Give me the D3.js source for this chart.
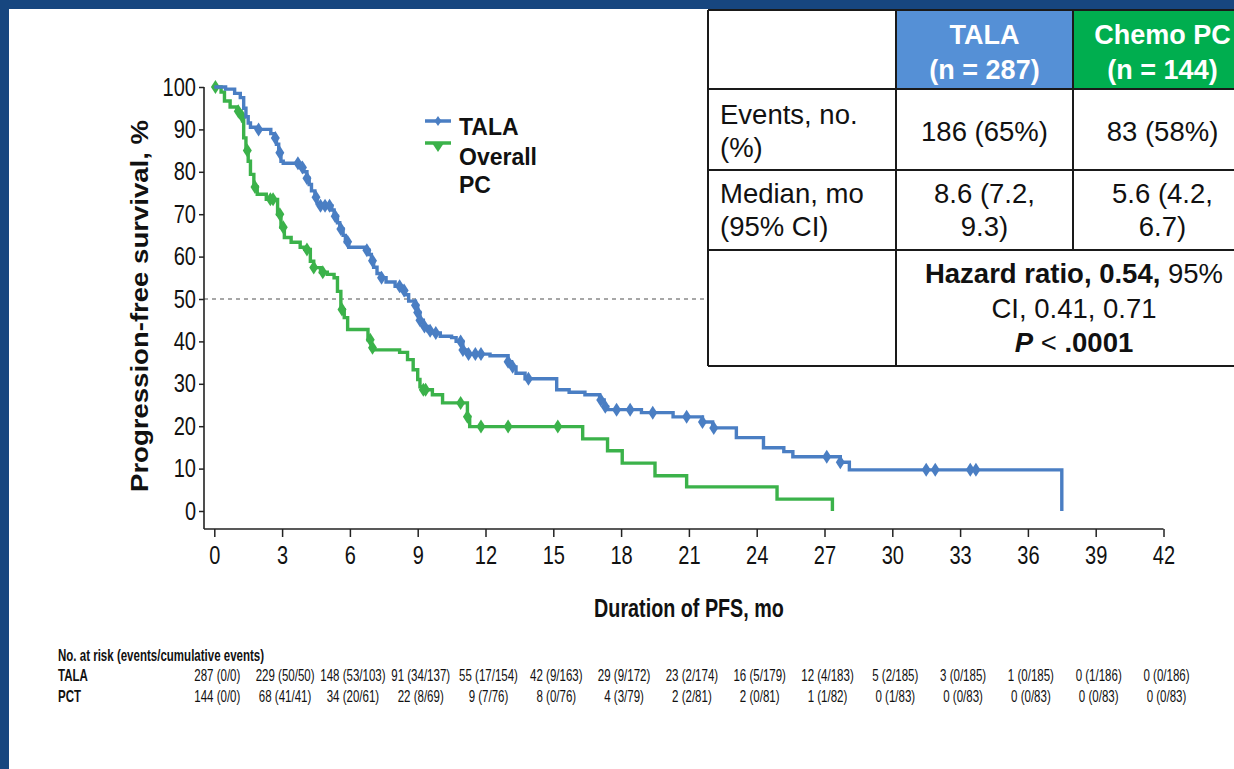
<!DOCTYPE html>
<html>
<head>
<meta charset="utf-8">
<script src="https://cdn.jsdelivr.net/npm/d3@7"></script>
<style>
  html, body { margin: 0; padding: 0; background: #fff; }
  svg { display: block; font-family: "Liberation Sans", Arial, sans-serif; }
</style>
</head>
<body>
<svg id="chart" width="1234" height="769"></svg>
<script>
// ---- axis ticks ----
const monthTicks = d3.range(0, 43, 3);
const survivalTicks = d3.range(0, 101, 10);

// ---- Kaplan–Meier steps: [month, % progression-free after the step] ----
const talaSteps = [
  [0,100],[0.5,99.5],[0.9,98.5],[1.15,97.5],[1.3,95],[1.4,93],[1.5,91.5],[1.6,90.5],[1.9,90],
  [2.5,89],[2.65,88],[2.75,86.5],[2.85,84.5],[2.95,82.5],[3.05,82],[3.8,81],[3.95,80],[4.1,78.5],
  [4.2,77],[4.3,75.5],[4.45,74],[4.55,72.5],[4.7,72],[5.2,71],[5.3,69.5],[5.45,68],[5.55,66.5],
  [5.7,65],[5.8,63.5],[5.95,62.2],[6.7,61.5],[6.85,60.5],[6.95,59],[7.05,57.5],[7.2,56],[7.35,55],
  [7.6,54],[8.0,53],[8.3,52],[8.45,51],[8.6,49.5],[8.9,48.5],[9.0,46.8],[9.1,45],[9.25,43.5],
  [9.45,42.5],[9.6,42],[10.0,41.2],[10.5,40.9],[10.7,40],[11.0,38],[11.2,37],[12.2,36.6],
  [13.0,35.2],[13.15,34],[13.35,32.5],[13.75,31.2],[15.15,28.6],[15.7,28.0],[16.4,27.4],
  [17.05,26.2],[17.25,24.6],[17.4,23.9],[18.9,23.2],[20.3,22.2],[21.6,21],[22.05,19.6],
  [23.1,17.3],[24.3,14.9],[25.2,14],[25.6,12.8],[27.7,11.5],[28.1,9.7],[37.5,0]
];
const pcSteps = [
  [0,100],[0.3,98.8],[0.45,96.7],[0.7,95.3],[1.0,94.3],[1.15,93],[1.25,92],[1.3,88],[1.4,85],
  [1.5,82.5],[1.6,79.4],[1.75,76.4],[1.9,74.7],[2.3,73.5],[2.8,70],[2.95,66.9],[3.1,64.5],
  [3.4,63.4],[3.8,62.2],[4.0,61.7],[4.25,58.9],[4.4,57.4],[4.7,56.3],[5.0,55.8],[5.3,55],
  [5.45,51.8],[5.6,47.5],[5.75,45.6],[5.9,42.8],[6.8,40.4],[6.95,38.5],[7.05,38],[8.2,37.4],
  [8.55,35.7],[8.8,33.3],[9.0,31],[9.1,29.3],[9.2,28.6],[9.65,27.4],[10.1,25.5],[11.2,22.2],
  [11.3,19.9],[16.3,17],[17.4,14.2],[18.05,11.3],[19.5,8.3],[20.9,5.7],[24.9,2.8],[27.35,0]
];

// ---- censoring times (months) ----
const talaCensored = [1.96,2.7,2.9,3.7,3.9,4.1,4.5,4.7,4.9,5.1,5.35,5.6,5.9,6.75,7.0,7.4,8.2,8.4,
  8.9,9.0,9.1,9.3,9.55,9.8,10.9,11.0,11.25,11.55,11.8,13.0,13.2,13.9,17.1,17.3,17.8,18.4,19.4,
  20.9,21.6,22.1,27.1,27.7,31.5,31.9,33.45,33.7];
const pcCensored = [0.05,1.06,1.24,1.46,1.8,2.48,2.6,2.9,3.05,4.1,4.4,4.8,5.65,6.9,7.0,9.25,
  9.35,10.9,11.2,11.8,13.0,15.2];

// ---- number at risk (events/cumulative events) ----
const atRiskTala = ["287 (0/0)","229 (50/50)","148 (53/103)","91 (34/137)","55 (17/154)",
  "42 (9/163)","29 (9/172)","23 (2/174)","16 (5/179)","12 (4/183)","5 (2/185)","3 (0/185)",
  "1 (0/185)","0 (1/186)","0 (0/186)"];
const atRiskPct = ["144 (0/0)","68 (41/41)","34 (20/61)","22 (8/69)","9 (7/76)","8 (0/76)",
  "4 (3/79)","2 (2/81)","2 (0/81)","1 (1/82)","0 (1/83)","0 (0/83)","0 (0/83)","0 (0/83)",
  "0 (0/83)"];

// ---- summary table ----
const armHeaders = [["TALA", "(n = 287)"], ["Chemo PC", "(n = 144)"]];
const rowLabels = [["Events, no.", "(%)"], ["Median, mo", "(95% CI)"]];
const eventsText = [["186 (65%)"], ["83 (58%)"]];
const medianText = [["8.6 (7.2,", "9.3)"], ["5.6 (4.2,", "6.7)"]];

const BLUE = "#4a7ec3";
const GREEN = "#3bb24a";
const FRAME = "#17467f";

const svg = d3.select("#chart");

// squeeze text horizontally
function condense(sel, f) {
  sel.each(function () {
    const w = this.getComputedTextLength();
    this.setAttribute("textLength", (w * f).toFixed(1));
    this.setAttribute("lengthAdjust", "spacingAndGlyphs");
  });
}

// slide frame
svg.append("rect").attr("x", 0).attr("y", 0).attr("width", 1234).attr("height", 9).attr("fill", FRAME);
svg.append("rect").attr("x", 0).attr("y", 0).attr("width", 9).attr("height", 769).attr("fill", FRAME);

const x = d3.scaleLinear().domain([0, 42]).range([214.3, 1163.5]);
const y = d3.scaleLinear().domain([0, 100]).range([511, 87]);
const axisY = 529, axisX = 204;

// 50% reference line
svg.append("line")
  .attr("x1", axisX).attr("x2", 708).attr("y1", y(50)).attr("y2", y(50))
  .attr("stroke", "#8a8a8a").attr("stroke-width", 1.6).attr("stroke-dasharray", "4,4");

// x axis
const gx = svg.append("g").attr("transform", `translate(0,${axisY})`)
  .call(d3.axisBottom(x).tickValues(monthTicks).tickSize(8).tickSizeOuter(0).tickPadding(9));
gx.select(".domain").remove();
gx.selectAll(".tick line").attr("stroke", "#222").attr("stroke-width", 1.5);
gx.selectAll(".tick text").attr("font-size", 25).attr("fill", "#111")
  .attr("font-family", "Liberation Sans, Arial, sans-serif");
svg.append("line").attr("x1", axisX).attr("x2", x(42)).attr("y1", axisY).attr("y2", axisY)
  .attr("stroke", "#222").attr("stroke-width", 1.6);

// y axis
const gy = svg.append("g").attr("transform", `translate(${axisX},0)`)
  .call(d3.axisLeft(y).tickValues(survivalTicks).tickSize(5).tickSizeOuter(0).tickPadding(3));
gy.select(".domain").remove();
gy.selectAll(".tick line").attr("stroke", "#222").attr("stroke-width", 1.5);
gy.selectAll(".tick text").attr("font-size", 25).attr("fill", "#111")
  .attr("font-family", "Liberation Sans, Arial, sans-serif");
svg.append("line").attr("x1", axisX).attr("x2", axisX).attr("y1", y(100)).attr("y2", axisY)
  .attr("stroke", "#222").attr("stroke-width", 1.6);

condense(gx.selectAll(".tick text"), 0.8);
condense(gy.selectAll(".tick text"), 0.8);

// axis titles
const xTitle = svg.append("text").attr("x", 689).attr("y", 617).attr("text-anchor", "middle")
  .attr("font-size", 25).attr("font-weight", "bold").attr("fill", "#111")
  .text("Duration of PFS, mo");
condense(xTitle, 0.79);

svg.append("text")
  .attr("transform", "translate(148,306) rotate(-90)")
  .attr("text-anchor", "middle").attr("font-size", 23).attr("font-weight", "bold").attr("fill", "#111")
  .attr("textLength", 372).attr("lengthAdjust", "spacingAndGlyphs")
  .text("Progression-free survival, %");

// survival curves
const line = d3.line().x(d => x(d[0])).y(d => y(d[1])).curve(d3.curveStepAfter);
function survivalAt(steps, t) {
  let s = steps[0][1];
  for (const [st, v] of steps) { if (st <= t) s = v; else break; }
  return s;
}
const diamond = "M0,-7L4.5,0L0,7L-4.5,0Z";

function drawArm(steps, censored, color) {
  svg.append("path").datum(steps).attr("d", line)
    .attr("fill", "none").attr("stroke", color).attr("stroke-width", 3.4)
    .attr("stroke-linejoin", "miter");
  svg.append("g").selectAll("path").data(censored).join("path")
    .attr("d", diamond)
    .attr("transform", t => `translate(${x(t)},${y(survivalAt(steps, t))})`)
    .attr("fill", color);
}
drawArm(pcSteps, pcCensored, GREEN);
drawArm(talaSteps, talaCensored, BLUE);

// legend
const lg = svg.append("g");
lg.append("line").attr("x1", 425).attr("x2", 451).attr("y1", 121).attr("y2", 121)
  .attr("stroke", BLUE).attr("stroke-width", 3.5);
lg.append("path").attr("d", "M0,-5L3.5,0L0,5L-3.5,0Z").attr("transform", "translate(438,121)").attr("fill", BLUE);
lg.append("line").attr("x1", 425).attr("x2", 451).attr("y1", 143).attr("y2", 143)
  .attr("stroke", GREEN).attr("stroke-width", 3.5);
lg.append("path").attr("d", "M-6,0L6,0L0,9Z").attr("transform", "translate(438,143)").attr("fill", GREEN);
[["TALA", 135], ["Overall", 165], ["PC", 193]].forEach(([t, yy]) => {
  lg.append("text").attr("x", 459).attr("y", yy).attr("font-size", 23).attr("font-weight", "bold")
    .attr("fill", "#111").text(t);
});

// summary table
const colX = [708, 896, 1073, 1252];
const rowY = [10, 89, 170, 250, 366];
const FS = 27.5;
const tb = svg.append("g");
tb.append("rect").attr("x", colX[0]).attr("y", rowY[0]).attr("width", colX[3] - colX[0])
  .attr("height", rowY[4] - rowY[0]).attr("fill", "#fff");
tb.append("rect").attr("x", colX[1]).attr("y", rowY[0]).attr("width", colX[2] - colX[1])
  .attr("height", rowY[1] - rowY[0]).attr("fill", "#5590d6");
tb.append("rect").attr("x", colX[2]).attr("y", rowY[0]).attr("width", colX[3] - colX[2])
  .attr("height", rowY[1] - rowY[0]).attr("fill", "#00ae4f");
const bl = (x1, y1, x2, y2) => tb.append("line").attr("x1", x1).attr("y1", y1).attr("x2", x2).attr("y2", y2)
  .attr("stroke", "#1a1a1a").attr("stroke-width", 2);
rowY.forEach(r => bl(colX[0], r, colX[3], r));
bl(colX[0], rowY[0], colX[0], rowY[4]);
bl(colX[1], rowY[0], colX[1], rowY[4]);
bl(colX[2], rowY[0], colX[2], rowY[3]);

const colMid = [(colX[1] + colX[2]) / 2, (colX[2] + colX[3]) / 2];
armHeaders.forEach((lines, i) => {
  lines.forEach((t, j) => tb.append("text").attr("x", colMid[i]).attr("y", 44 + j * 35)
    .attr("text-anchor", "middle").attr("font-size", 27).attr("font-weight", "bold")
    .attr("fill", "#fff").text(t));
});
rowLabels.forEach((lines, i) => {
  const base = [124, 203][i];
  lines.forEach((t, j) => tb.append("text").attr("x", 720).attr("y", base + j * 33)
    .attr("font-size", FS).attr("fill", "#111").text(t));
});
eventsText.forEach((lines, i) => {
  tb.append("text").attr("x", colMid[i]).attr("y", 141).attr("text-anchor", "middle")
    .attr("font-size", FS).attr("fill", "#111").text(lines[0]);
});
medianText.forEach((lines, i) => {
  lines.forEach((t, j) => tb.append("text").attr("x", colMid[i]).attr("y", 203 + j * 33)
    .attr("text-anchor", "middle").attr("font-size", FS).attr("fill", "#111").text(t));
});
const hrMid = (colX[1] + colX[3]) / 2;
const hr1 = tb.append("text").attr("x", hrMid).attr("y", 283).attr("text-anchor", "middle")
  .attr("font-size", FS).attr("fill", "#111");
hr1.append("tspan").attr("font-weight", "bold").text("Hazard ratio, 0.54,");
hr1.append("tspan").text(" 95%");
tb.append("text").attr("x", hrMid).attr("y", 318).attr("text-anchor", "middle")
  .attr("font-size", FS).attr("fill", "#111").text("CI, 0.41, 0.71");
const hr3 = tb.append("text").attr("x", hrMid).attr("y", 352).attr("text-anchor", "middle")
  .attr("font-size", FS).attr("fill", "#111");
hr3.append("tspan").attr("font-weight", "bold").attr("font-style", "italic").text("P");
hr3.append("tspan").text(" < ");
hr3.append("tspan").attr("font-weight", "bold").text(".0001");

// number at risk (narrow type drawn with a horizontal scale)
const RK = 0.72;
const rk = svg.append("g").attr("fill", "#111");
rk.append("text").attr("transform", `translate(58,661) scale(${RK},1)`).attr("font-size", 16)
  .attr("font-weight", "bold").text("No. at risk (events/cumulative events)");
[["TALA", 681, atRiskTala], ["PCT", 702, atRiskPct]].forEach(([name, yy, vals]) => {
  rk.append("text").attr("transform", `translate(58,${yy}) scale(${RK},1)`).attr("font-size", 16)
    .attr("font-weight", "bold").text(name);
  rk.append("g").selectAll("text").data(vals).join("text")
    .attr("transform", (d, i) => `translate(${x(monthTicks[i]) + 3},${yy}) scale(${RK},1)`)
    .attr("text-anchor", "middle").attr("font-size", 16).text(d => d);
});
</script>
</body>
</html>
